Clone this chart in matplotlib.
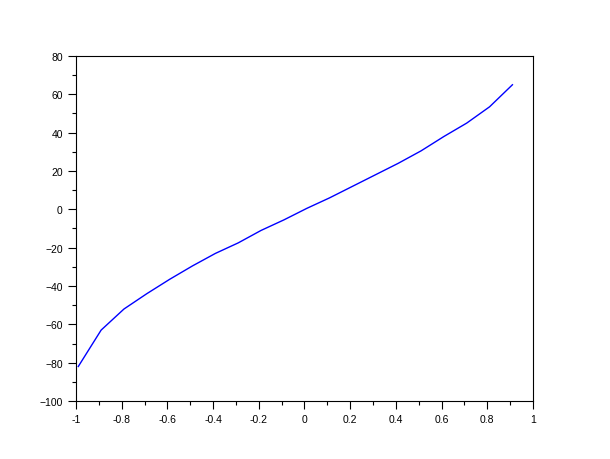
import numpy as np
import matplotlib.pyplot as plt
from matplotlib.ticker import MultipleLocator

x = [-0.99, -0.89, -0.79, -0.69, -0.59, -0.49, -0.39, -0.29, -0.19, -0.09,
     0.01, 0.11, 0.21, 0.31, 0.41, 0.51, 0.61, 0.71, 0.81, 0.91]
y = [-82, -63, -52, -44, -36.5, -29.5, -23, -17.5, -11, -5.5,
     0.5, 6, 12, 18, 24, 30.5, 38, 45, 53.5, 65]

plt.rcParams['font.family'] = ['Liberation Sans', 'DejaVu Sans']

fig = plt.figure(figsize=(6.1, 4.6), dpi=100)
ax = fig.add_axes([76/610, 1 - 402/460, (533 - 76)/610, (402 - 57)/460])

ax.plot(x, y, color='#0000ff', linewidth=1)

ax.set_xlim(-1, 1)
ax.set_ylim(-100, 80)
ax.xaxis.set_major_locator(MultipleLocator(0.2))
ax.xaxis.set_minor_locator(MultipleLocator(0.1))
ax.yaxis.set_major_locator(MultipleLocator(20))
ax.yaxis.set_minor_locator(MultipleLocator(10))
ax.set_xticks(np.arange(-1, 1.01, 0.2))
ax.set_xticklabels(['-1', '-0.8', '-0.6', '-0.4', '-0.2', '0', '0.2', '0.4', '0.6', '0.8', '1'])
ax.tick_params(which='major', direction='out', length=6, width=0.8, labelsize=7.5, colors='black')
ax.tick_params(which='minor', direction='out', length=3, width=0.8)
for s in ax.spines.values():
    s.set_linewidth(0.8)

fig.savefig('out.png', dpi=100)
